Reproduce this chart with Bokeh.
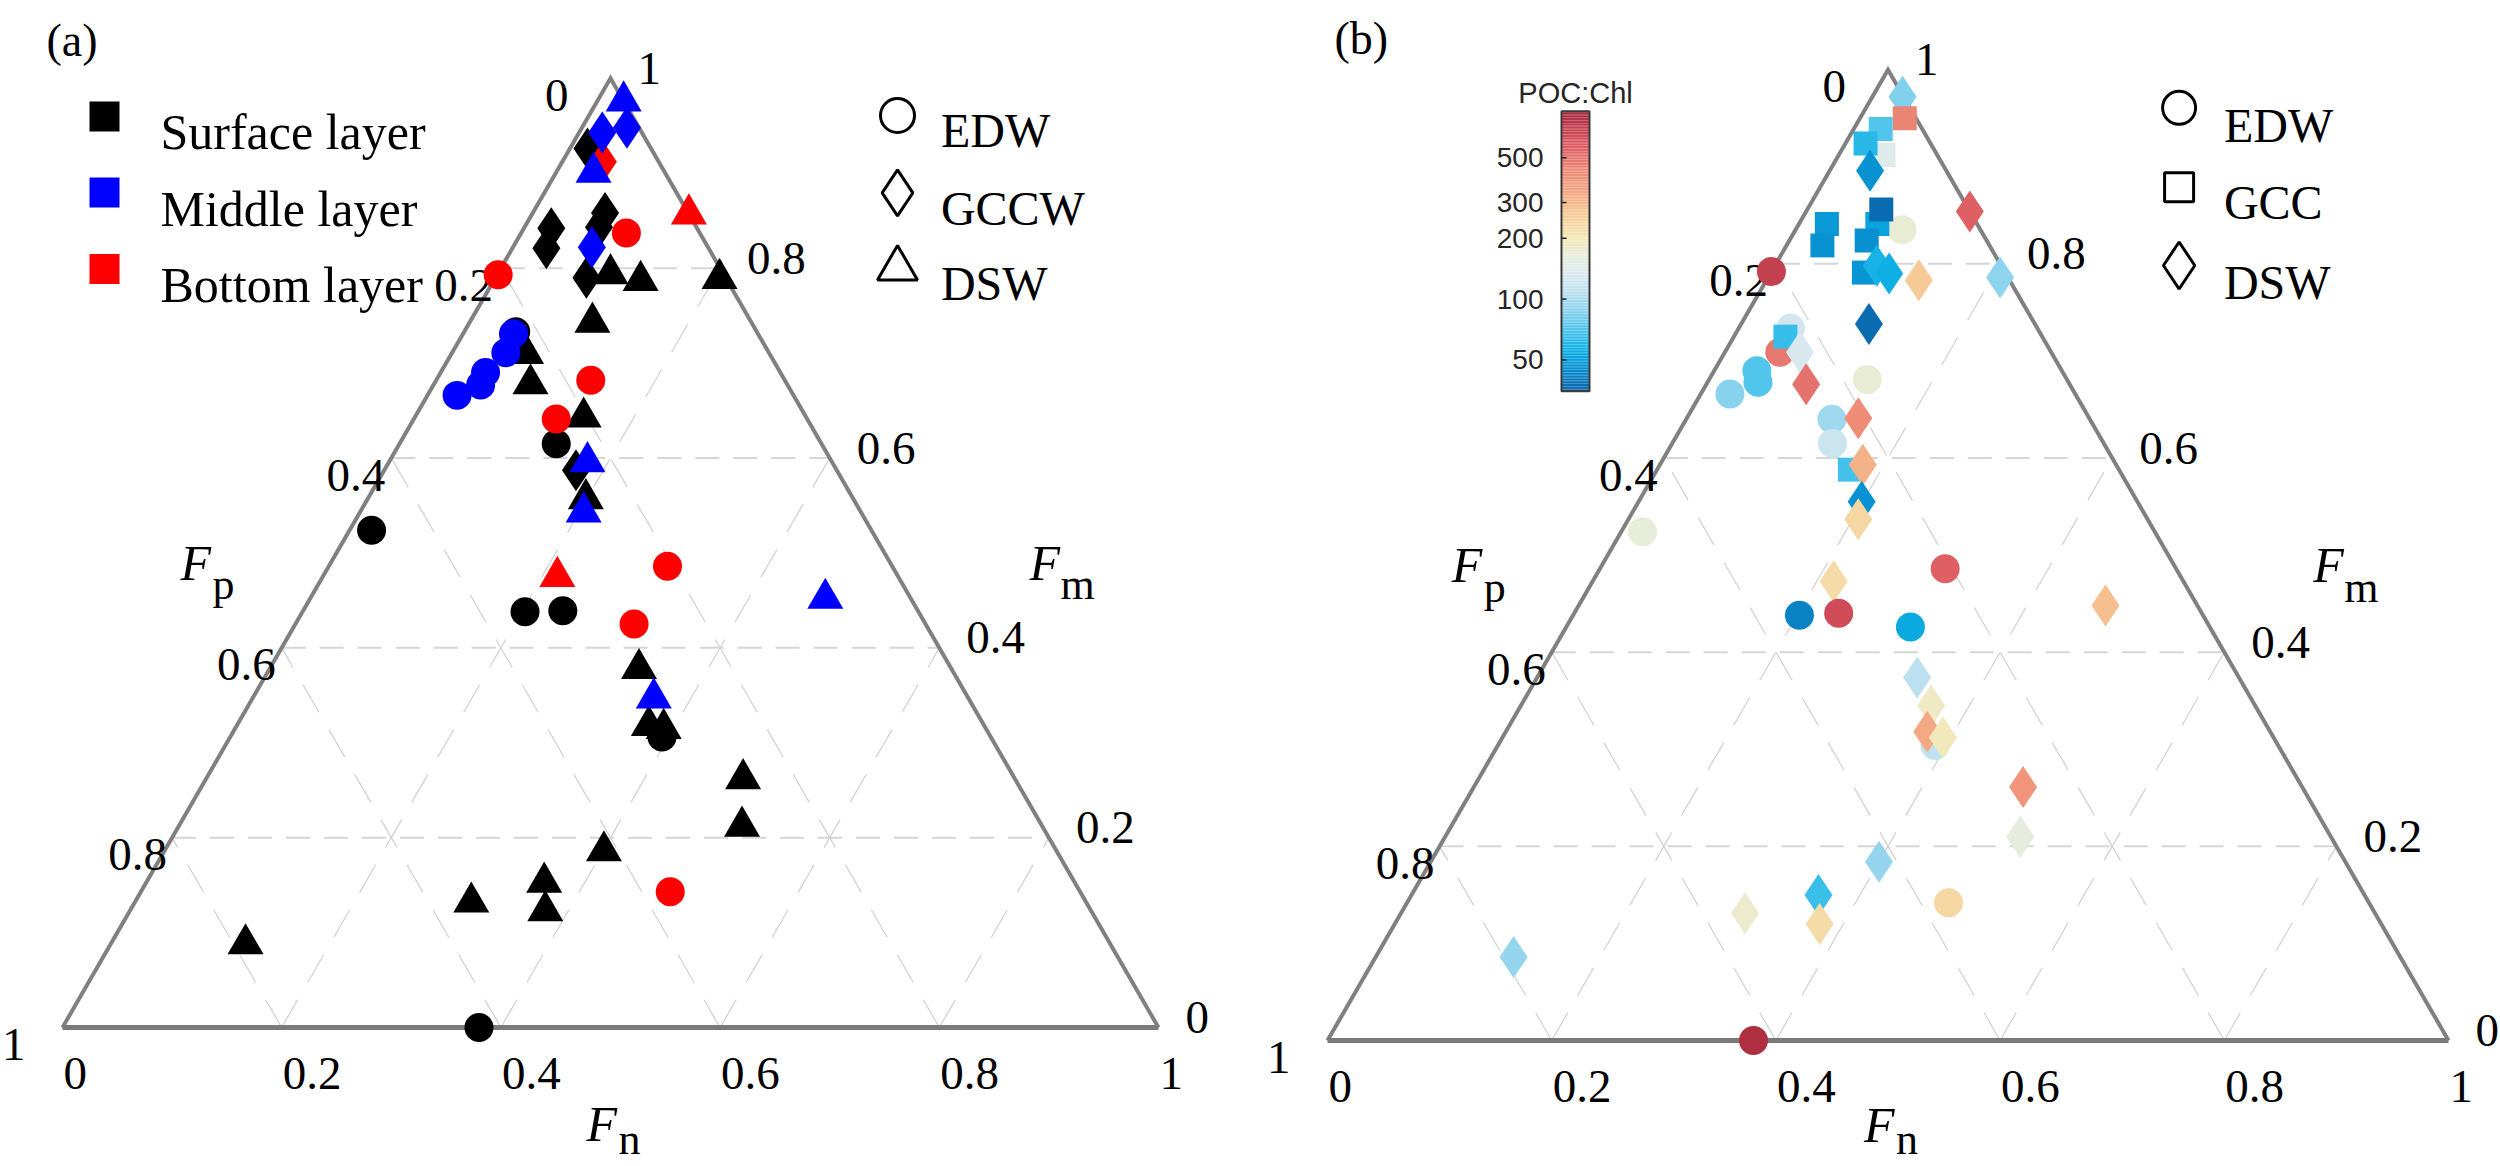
import numpy as np
from bokeh.plotting import figure
from bokeh.layouts import row
from bokeh.models import ColumnDataSource, LogColorMapper, Range1d
from bokeh.core.properties import value
from bokeh.embed import file_html
from bokeh.resources import INLINE

# ======================= DATA =======================
# ---- panel (a): size-fraction composition, coloured by layer, shaped by water mass
A_LAYER = ["Surface layer"] * 32 + ["Middle layer"] * 14 + ["Bottom layer"] * 10
A_WATER = (["EDW"] * 7 + ["GCCW"] * 7 + ["DSW"] * 18 +
           ["EDW"] * 5 + ["GCCW"] * 3 + ["DSW"] * 6 +
           ["EDW"] * 7 + ["GCCW"] * 1 + ["DSW"] * 2)
A_FN = [0.047, 0.143, 0.020, 0.203, 0.237, 0.394, 0.380,
        0.016, 0.066, 0.068, 0.025, 0.031, 0.083, 0.175,
        0.103, 0.134, 0.205, 0.112, 0.068, 0.088, 0.154, 0.199, 0.337, 0.376,
        0.391, 0.490, 0.514, 0.401, 0.363, 0.379, 0.307, 0.123,
        0.046, 0.049, 0.041, 0.043, 0.027,
        0.041, 0.021, 0.072,
        0.024, 0.034, 0.181, 0.204, 0.366, 0.470,
        0.096, 0.001, 0.141, 0.130, 0.309, 0.309, 0.483,
        0.037,
        0.143, 0.214]
A_FP = [0.220, 0.242, 0.456, 0.359, 0.324, 0.300, 0.620,
        0.058, 0.076, 0.089, 0.133, 0.148, 0.127, 0.238,
        0.103, 0.079, 0.006, 0.145, 0.222, 0.234, 0.203, 0.244, 0.285, 0.306,
        0.294, 0.248, 0.274, 0.413, 0.484, 0.498, 0.561, 0.789,
        0.223, 0.240, 0.269, 0.280, 0.307,
        0.011, 0.036, 0.106,
        0.000, 0.065, 0.223, 0.253, 0.287, 0.078,
        0.067, 0.206, 0.177, 0.229, 0.205, 0.266, 0.374,
        0.051,
        0.000, 0.311]
A_FM = [0.733, 0.615, 0.524, 0.438, 0.439, 0.306, 0.000,
        0.926, 0.858, 0.843, 0.842, 0.821, 0.790, 0.587,
        0.794, 0.787, 0.789, 0.743, 0.710, 0.678, 0.643, 0.557, 0.378, 0.318,
        0.315, 0.262, 0.212, 0.186, 0.153, 0.123, 0.132, 0.088,
        0.731, 0.711, 0.690, 0.677, 0.666,
        0.948, 0.943, 0.822,
        0.976, 0.901, 0.596, 0.543, 0.347, 0.452,
        0.837, 0.793, 0.682, 0.641, 0.486, 0.425, 0.143,
        0.912,
        0.857, 0.475]

# ---- panel (b): same composition, coloured by POC:Chl
B_WATER = ["DSW", "GCC", "GCC", "GCC", "GCC", "DSW", "DSW", "EDW", "GCC", "GCC",
           "GCC", "GCC", "GCC", "EDW", "GCC", "DSW", "DSW", "DSW", "DSW", "DSW",
           "EDW", "EDW", "GCC", "DSW", "EDW", "EDW", "EDW", "DSW", "EDW", "EDW",
           "DSW", "EDW", "GCC", "DSW", "DSW", "DSW", "EDW", "DSW", "EDW", "EDW",
           "EDW", "EDW", "DSW", "EDW", "DSW", "DSW", "DSW", "DSW", "DSW", "DSW",
           "DSW", "DSW", "EDW", "DSW", "DSW", "DSW", "EDW"]
B_FN = [0.027, 0.040, 0.040, 0.024, 0.018, 0.036, 0.146, 0.095, 0.070, 0.066,
        0.025, 0.032, 0.069, 0.000, 0.083, 0.091, 0.106, 0.136, 0.207, 0.114,
        0.046, 0.049, 0.046, 0.067, 0.038, 0.045, 0.026, 0.089, 0.141, 0.130,
        0.153, 0.143, 0.172, 0.181, 0.199, 0.205, 0.019, 0.215, 0.308, 0.202,
        0.236, 0.307, 0.470, 0.390, 0.339, 0.366, 0.376, 0.393, 0.490, 0.513,
        0.400, 0.363, 0.483, 0.307, 0.379, 0.123, 0.380]
B_FP = [0.001, 0.010, 0.048, 0.037, 0.058, 0.068, 0.000, 0.070, 0.089, 0.078,
        0.134, 0.149, 0.107, 0.208, 0.126, 0.111, 0.104, 0.081, 0.007, 0.148,
        0.220, 0.242, 0.229, 0.224, 0.272, 0.277, 0.308, 0.235, 0.178, 0.230,
        0.206, 0.242, 0.240, 0.226, 0.246, 0.258, 0.457, 0.312, 0.206, 0.360,
        0.324, 0.267, 0.082, 0.306, 0.287, 0.289, 0.306, 0.295, 0.249, 0.277,
        0.416, 0.487, 0.375, 0.562, 0.501, 0.791, 0.620]
B_FM = [0.972, 0.950, 0.912, 0.939, 0.924, 0.896, 0.854, 0.835, 0.841, 0.856,
        0.841, 0.819, 0.824, 0.792, 0.791, 0.798, 0.790, 0.783, 0.786, 0.738,
        0.734, 0.709, 0.725, 0.709, 0.690, 0.678, 0.666, 0.676, 0.681, 0.640,
        0.641, 0.615, 0.588, 0.593, 0.555, 0.537, 0.524, 0.473, 0.486, 0.438,
        0.440, 0.426, 0.448, 0.304, 0.374, 0.345, 0.318, 0.312, 0.261, 0.210,
        0.184, 0.150, 0.142, 0.131, 0.120, 0.086, 0.000]
B_POC = [85, 450, 140, 72, 62, 46, 560, 170, 52, 37,
         48, 46, 45, 700, 47, 58, 56, 265, 90, 37,
         125, 480, 65, 130, 72, 72, 88, 500, 170, 95,
         420, 120, 68, 310, 46, 235, 165, 225, 560, 42,
         650, 54, 285, 110, 108, 185, 330, 195, 390, 160,
         92, 66, 235, 175, 225, 92, 800]

TICK_VALUES = [0.0, 0.2, 0.4, 0.6, 0.8, 1.0]
TICK_LABELS = ["0", "0.2", "0.4", "0.6", "0.8", "1"]
LAYERS = ["Surface layer", "Middle layer", "Bottom layer"]
A_WATERS = ["EDW", "GCCW", "DSW"]
B_WATERS = ["EDW", "GCC", "DSW"]
CBAR_TICKS = [50, 100, 200, 300, 500]
CBAR_LOW, CBAR_HIGH = 35, 850

# ======================= STYLE =======================
SERIF = "Liberation Serif"
SANS = "Liberation Sans"
ORIGIN = 0          # page position of the figures' top-left corner
FIG_H = 1166
GEOM = {
    "a": {"left": 0, "width": 1250, "blx": 62.0, "bly": 1027.0, "L": 1096.0,
          "fsub": 96, "nsub": 112},
    "b": {"left": 1250, "width": 1250, "blx": 1327.0, "bly": 1040.0, "L": 1121.0,
          "fsub": 84, "nsub": 99},
}
LAYER_COLORS = {"Surface layer": "#000000", "Middle layer": "#0000ff", "Bottom layer": "#ff0000"}
A_MARK = {"EDW": ("circle", 29), "GCCW": ("diamond", 42), "DSW": ("triangle", 36)}
B_MARK = {"EDW": ("circle", 29), "GCC": ("square", 24), "DSW": ("diamond", 42)}
CMAP_ANCHORS = [(0.000, "#0b63a8"), (0.079, "#0890d0"), (0.142, "#0aaee4"), (0.217, "#4cc4ec"),
                (0.296, "#90d4ee"), (0.359, "#c0e2f0"), (0.423, "#dde9ee"), (0.486, "#e8edda"),
                (0.547, "#f3e7b6"), (0.629, "#f6cd98"), (0.704, "#f4aa84"), (0.801, "#ec8474"),
                (0.891, "#da5660"), (1.000, "#a8283c")]

SQ = np.sqrt(3) / 2


def build_palette(n=256):
    ts = np.array([a[0] for a in CMAP_ANCHORS])
    rgb = np.array([[int(h[i:i + 2], 16) for i in (1, 3, 5)] for _, h in CMAP_ANCHORS], float)
    out = []
    for t in np.linspace(0, 1, n):
        c = [np.interp(t, ts, rgb[:, k]) for k in range(3)]
        out.append("#%02x%02x%02x" % tuple(int(round(v)) for v in c))
    return out


PALETTE = build_palette()
MAPPER = LogColorMapper(palette=PALETTE, low=CBAR_LOW, high=CBAR_HIGH)


def tern(fn, fp, fm):
    """Ternary -> cartesian (side length 1, Fp=1 bottom-left, Fn=1 bottom-right, Fm=1 apex)."""
    fn, fp, fm = (np.asarray(v, float) for v in (fn, fp, fm))
    s = fn + fp + fm
    fn, fm = fn / s, fm / s
    return fn + 0.5 * fm, SQ * fm


def pg(g, X, Y):
    """Page pixel position (for decorations) -> data coordinates of a panel."""
    X = np.atleast_1d(np.asarray(X, float))
    Y = np.atleast_1d(np.asarray(Y, float))
    return (X - g["blx"]) / g["L"], (g["bly"] - Y) / g["L"]


def make_fig(g):
    L = g["L"]
    fl = ORIGIN + g["left"]
    x0 = (fl - g["blx"]) / L
    x1 = (fl + g["width"] - g["blx"]) / L
    y1 = (g["bly"] - ORIGIN) / L
    y0 = (g["bly"] - ORIGIN - FIG_H) / L
    p = figure(width=g["width"], height=FIG_H, x_range=Range1d(x0, x1), y_range=Range1d(y0, y1),
               output_backend="svg", toolbar_location=None, min_border=0,
               x_axis_location=None, y_axis_location=None)
    for gr in p.grid:
        gr.visible = False
    p.outline_line_color = None
    p.background_fill_color = "white"
    p.border_fill_color = "white"
    return p


def add_text(p, x, y, texts, size, font=SERIF, align="left", baseline="alphabetic",
             style="normal", xoff=0, yoff=0, color="black"):
    n = len(texts)
    src = ColumnDataSource(dict(
        x=list(np.atleast_1d(x)), y=list(np.atleast_1d(y)), text=list(texts),
        xo=[float(v) for v in np.broadcast_to(np.asarray(xoff, float), (n,))],
        yo=[float(v) for v in np.broadcast_to(np.asarray(yoff, float), (n,))]))
    p.text(x="x", y="y", text="text", x_offset="xo", y_offset="yo", source=src,
           text_font=value(font), text_font_size=value(size), text_align=align,
           text_baseline=baseline, text_font_style=style, text_color=color)


def draw_frame(p, g):
    hx, hy, sx, sy = [], [], [], []
    for k in TICK_VALUES[1:-1]:
        x, y = tern([0, 1 - k], [1 - k, 0], [k, k])
        hx.append(x.tolist()); hy.append(y.tolist())
        x, y = tern([k, k], [1 - k, 0], [0, 1 - k])
        sx.append(x.tolist()); sy.append(y.tolist())
        x, y = tern([1 - k, 0], [k, k], [0, 1 - k])
        sx.append(x.tolist()); sy.append(y.tolist())
    p.multi_line(sx, sy, line_color="#d0d0d0", line_width=1.2, line_dash="32 20")
    p.multi_line(hx, hy, line_color="#d6d6d6", line_width=2, line_dash="24 14")
    vx, vy = tern([0, 1, 0, 0], [1, 0, 0, 1], [0, 0, 1, 0])
    p.line(vx[1:], vy[1:], line_color="#808080", line_width=4, line_join="miter")
    p.line(vx[:2], vy[:2], line_color="#7a7a7a", line_width=5)

    t = np.array(TICK_VALUES)
    z = np.zeros_like(t)
    x, y = tern(z, t, 1 - t)                      # left edge: Fp
    add_text(p, x, y, TICK_LABELS, "47px", align="right",
             xoff=[-42, -8, -6, -6, -5, -37], yoff=17)
    x, y = tern(1 - t, z, t)                      # right edge: Fm
    add_text(p, x, y, TICK_LABELS, "47px", align="left", xoff=27, yoff=-10)
    x, y = tern(t, 1 - t, z)                      # bottom edge: Fn
    add_text(p, x, y, TICK_LABELS, "47px", align="left", xoff=1, yoff=46)

    x, y = tern([0], [0.5], [0.5])
    add_text(p, x, y, ["F"], "50px", style="italic", xoff=-156, yoff=10)
    add_text(p, x, y, ["p"], "44px", xoff=-124, yoff=32)
    x, y = tern([0.5], [0], [0.5])
    add_text(p, x, y, ["F"], "50px", style="italic", xoff=145, yoff=10)
    add_text(p, x, y, ["m"], "44px", xoff=176, yoff=32)
    x, y = tern([0.5], [0.5], [0])
    add_text(p, x, y, ["F"], "50px", style="italic", xoff=-24, yoff=g["fsub"])
    add_text(p, x, y, ["n"], "44px", xoff=8, yoff=g["nsub"])


# ======================= PANEL (a) =======================
ga = GEOM["a"]
pa = make_fig(ga)
draw_frame(pa, ga)

ax, ay = tern(A_FN, A_FP, A_FM)
rank = {"Surface layer": 0, "Bottom layer": 1, "Middle layer": 2}
order = sorted(range(len(A_FN)), key=lambda i: rank[A_LAYER[i]])
src_a = ColumnDataSource(dict(
    x=[ax[i] for i in order], y=[ay[i] for i in order],
    c=[LAYER_COLORS[A_LAYER[i]] for i in order],
    m=[A_MARK[A_WATER[i]][0] for i in order],
    s=[A_MARK[A_WATER[i]][1] for i in order]))
pa.scatter(x="x", y="y", marker="m", size="s", fill_color="c", line_color=None, source=src_a)

# legend (layers)
lx, ly = pg(ga, [104] * 3, [116, 192, 268.5])
pa.scatter(lx, ly, marker="square", size=30, fill_color=[LAYER_COLORS[l] for l in LAYERS],
           line_color=None)
tx, ty = pg(ga, [160] * 3, [131, 208, 284])
add_text(pa, tx, ty, LAYERS, "50px")
# legend (water masses)
mx, my = pg(ga, [897] * 3, [115, 192.3, 268])
for i, w in enumerate(A_WATERS):
    mk, _ = A_MARK[w]
    sz = {"circle": 34, "diamond": 46, "triangle": 40}[mk]
    pa.scatter([mx[i]], [my[i]], marker=mk, size=sz, fill_color=None, line_color="black",
               line_width=3)
tx, ty = pg(ga, [940.4] * 3, [130, 208, 283])
add_text(pa, tx, ty, A_WATERS, "48px")
px_, py_ = pg(ga, [46], [40])
add_text(pa, px_, py_, ["(a)"], "46px")

# ======================= PANEL (b) =======================
gb = GEOM["b"]
pb = make_fig(gb)
draw_frame(pb, gb)

bx, by = tern(B_FN, B_FP, B_FM)
src_b = ColumnDataSource(dict(
    x=list(bx), y=list(by), poc=B_POC,
    m=[B_MARK[w][0] for w in B_WATER], s=[B_MARK[w][1] for w in B_WATER]))
pb.scatter(x="x", y="y", marker="m", size="s",
           fill_color={"field": "poc", "transform": MAPPER}, line_color=None, source=src_b)

# legend (water masses)
mx, my = pg(gb, [2178.6] * 3, [107.3, 186.7, 265])
for i, w in enumerate(B_WATERS):
    mk, _ = B_MARK[w]
    sz = {"circle": 33, "square": 29, "diamond": 47}[mk]
    pb.scatter([mx[i]], [my[i]], marker=mk, size=sz, fill_color=None, line_color="black",
               line_width=3)
tx, ty = pg(gb, [2223.4] * 3, [125, 201.7, 281.7])
add_text(pb, tx, ty, B_WATERS, "48px")
px_, py_ = pg(gb, [1334], [38])
add_text(pb, px_, py_, ["(b)"], "46px")

# colour bar (log scale), drawn from the same colour mapper
CB_X0, CB_X1, CB_TOP, CB_BOT = 1561.0, 1589.0, 110.7, 390.7
llo, lhi = np.log10(CBAR_LOW), np.log10(CBAR_HIGH)


def cb_y(v):
    return CB_BOT - (np.log10(v) - llo) / (lhi - llo) * (CB_BOT - CB_TOP)


nseg = 180
edges = np.linspace(llo, lhi, nseg + 1)
mids = 10 ** ((edges[:-1] + edges[1:]) / 2)
ybot = [pg(gb, CB_X0, cb_y(10 ** e))[1][0] for e in edges[:-1]]
ytop = [pg(gb, CB_X0, cb_y(10 ** e))[1][0] for e in edges[1:]]
xl = pg(gb, CB_X0, 0)[0][0]
xr = pg(gb, CB_X1, 0)[0][0]
src_cb = ColumnDataSource(dict(left=[xl] * nseg, right=[xr] * nseg, bottom=ybot, top=ytop,
                               v=list(mids)))
pb.quad(left="left", right="right", bottom="bottom", top="top", source=src_cb,
        fill_color={"field": "v", "transform": MAPPER}, line_color=None)
yb0 = pg(gb, 0, CB_BOT)[1][0]
yt0 = pg(gb, 0, CB_TOP)[1][0]
pb.quad(left=[xl], right=[xr], bottom=[yb0], top=[yt0], fill_color=None,
        line_color="#3a3a3a", line_width=2)
tick_y = [pg(gb, 0, cb_y(v))[1][0] for v in CBAR_TICKS]
tick_x1 = pg(gb, CB_X0 + 5, 0)[0][0]
pb.segment(x0=[xl] * len(CBAR_TICKS), y0=tick_y, x1=[tick_x1] * len(CBAR_TICKS), y1=tick_y,
           line_color="#222222", line_width=1.5)
lab_x = pg(gb, 1543.0, 0)[0][0]
add_text(pb, [lab_x] * len(CBAR_TICKS), tick_y, [str(v) for v in CBAR_TICKS], "28px",
         font=SANS, align="right", baseline="middle", color="#262626")
tx, ty = pg(gb, [1575.0], [92.0])
add_text(pb, tx, ty, ["POC:Chl"], "29px", font=SANS, align="center", color="#262626")

layout = row(pa, pb)
open("out.html", "w").write(file_html(layout, INLINE, title="Ternary plots"))
